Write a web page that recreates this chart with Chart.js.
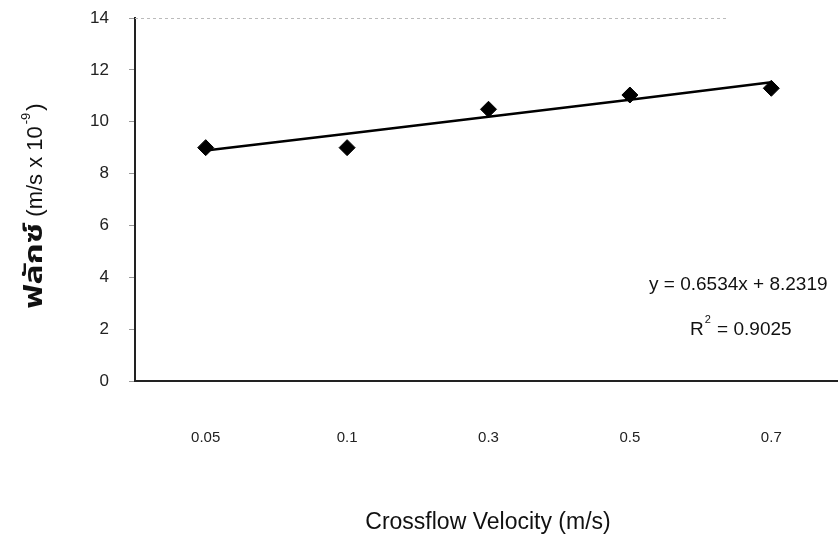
<!DOCTYPE html>
<html>
<head>
<meta charset="utf-8">
<script src="https://cdn.jsdelivr.net/npm/chart.js@4.4.0/dist/chart.umd.min.js"></script>
<style>
html,body{margin:0;padding:0;background:#fff;overflow:hidden;}
#wrap{width:838px;height:540px;position:relative;overflow:hidden;}
</style>
</head>
<body>
<div id="wrap"><canvas id="c" width="851" height="540"></canvas></div>
<script>
const categories = ["0.05", "0.1", "0.3", "0.5", "0.7"];
const fluxValues = [9.0, 9.0, 10.48, 11.03, 11.29];
const trendValues = [8.89, 9.54, 10.19, 10.85, 11.52];
const yTicks = [0, 2, 4, 6, 8, 10, 12, 14];
const equationText = "y = 0.6534x + 8.2319";
const r2Value = " = 0.9025";
const xTitle = "Crossflow Velocity (m/s)";
const yTitleThai = "ฟลักซ์";
const yTitleRest = " (m/s x 10";
const yTitleSup = "-9";
const yTitleEnd = ")";

const FONT = "'Liberation Sans', Arial, sans-serif";

const annotPlugin = {
  id: 'annot',
  afterDraw(chart) {
    const ctx = chart.ctx;
    const a = chart.chartArea;
    ctx.save();
    // top dashed border
    ctx.strokeStyle = '#bbbbbb';
    ctx.lineWidth = 1;
    ctx.setLineDash([3, 3]);
    ctx.beginPath();
    ctx.moveTo(a.left, a.top + 0.5);
    ctx.lineTo(728, a.top + 0.5);
    ctx.stroke();
    ctx.setLineDash([]);
    // equation
    ctx.fillStyle = '#111';
    ctx.font = "19px " + FONT;
    ctx.textBaseline = 'middle';
    ctx.textAlign = 'left';
    ctx.fillText(equationText, 649, 285);
    ctx.fillText("R", 690, 330);
    const rw = ctx.measureText("R").width;
    ctx.font = "11px " + FONT;
    ctx.fillText("2", 690 + rw + 1, 320);
    const sw = ctx.measureText("2").width;
    ctx.font = "19px " + FONT;
    ctx.fillText(r2Value, 690 + rw + sw + 2, 330);
    // x title
    ctx.font = "23px " + FONT;
    ctx.textAlign = 'center';
    ctx.fillText(xTitle, 488, 523);
    // y title rotated
    ctx.translate(42, 206);
    ctx.rotate(-Math.PI / 2);
    ctx.textAlign = 'left';
    ctx.textBaseline = 'alphabetic';
    const thaiFont = "bold 25px 'Noto Sans Thai', 'Noto Sans', " + FONT;
    const thaiStretch = 1.35;
    ctx.font = thaiFont;
    const w1 = ctx.measureText(yTitleThai).width * thaiStretch;
    ctx.font = "22px " + FONT;
    const w2 = ctx.measureText(yTitleRest).width;
    ctx.font = "13px " + FONT;
    const w3 = ctx.measureText(yTitleSup).width;
    ctx.font = "22px " + FONT;
    const w4 = ctx.measureText(yTitleEnd).width;
    const total = w1 + w2 + w3 + w4 + 4;
    let x = -total / 2;
    ctx.save();
    ctx.translate(x, 0);
    ctx.scale(thaiStretch, 1);
    ctx.font = thaiFont;
    ctx.fillText(yTitleThai, 0, 0);
    ctx.restore();
    x += w1;
    ctx.font = "22px " + FONT;
    ctx.fillText(yTitleRest, x, 0); x += w2 + 2;
    ctx.font = "13px " + FONT;
    ctx.fillText(yTitleSup, x, -12); x += w3 + 2;
    ctx.font = "22px " + FONT;
    ctx.fillText(yTitleEnd, x, 0);
    ctx.restore();
  }
};

new Chart(document.getElementById('c'), {
  type: 'line',
  data: {
    labels: categories,
    datasets: [
      {
        data: fluxValues,
        showLine: false,
        pointStyle: 'rectRot',
        pointRadius: 8,
        pointBackgroundColor: '#000',
        pointBorderColor: '#000',
        borderColor: '#000'
      },
      {
        data: trendValues,
        borderColor: '#000',
        borderWidth: 2.5,
        pointRadius: 0,
        tension: 0,
        fill: false
      }
    ]
  },
  options: {
    responsive: false,
    animation: false,
    devicePixelRatio: 1,
    layout: { padding: { top: 18, right: 0, bottom: 0, left: 0 } },
    plugins: { legend: { display: false }, tooltip: { enabled: false } },
    scales: {
      x: {
        offset: true,
        grid: { display: false, drawTicks: false },
        border: { display: true, color: '#222', width: 2 },
        ticks: { color: '#222', padding: 48, font: { family: FONT, size: 15 } },
        afterFit(s) { s.height = 159; s.paddingLeft = 0; s.paddingRight = 0; }
      },
      y: {
        min: 0, max: 14,
        afterBuildTicks(s) { s.ticks = yTicks.map(v => ({ value: v })); },
        grid: { drawOnChartArea: false, drawTicks: true, tickLength: 6, color: '#999' },
        border: { display: true, color: '#222', width: 2 },
        ticks: { color: '#222', padding: 20, font: { family: FONT, size: 17 } },
        afterFit(s) { s.width = 135; s.paddingTop = 0; s.paddingBottom = 0; }
      }
    }
  },
  plugins: [annotPlugin]
});
</script>
</body>
</html>
